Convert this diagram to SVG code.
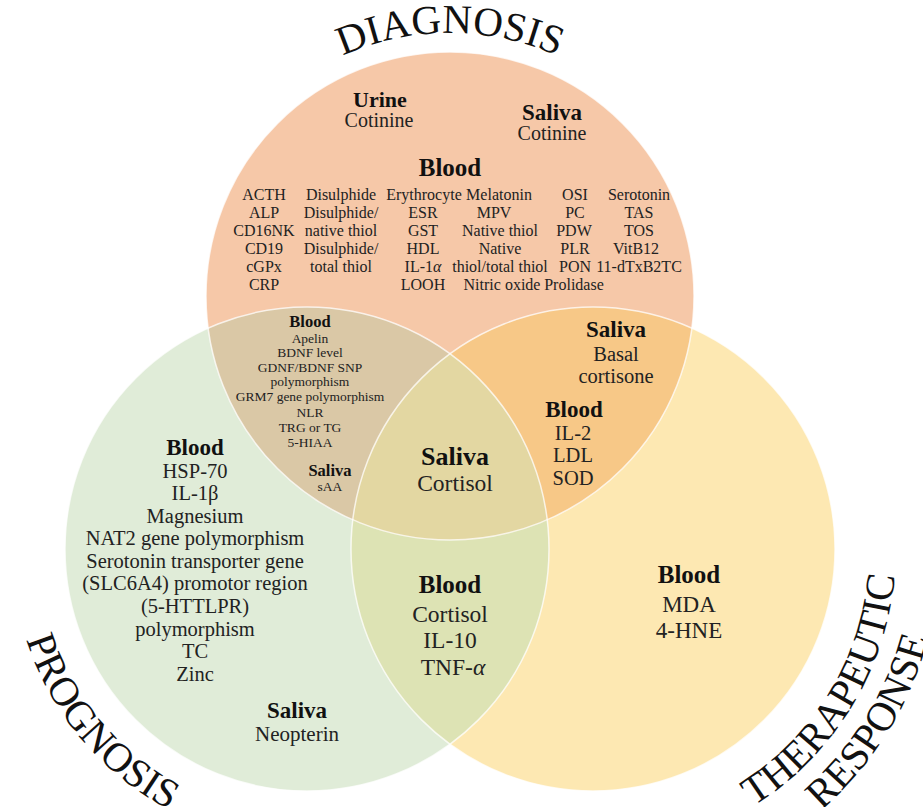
<svg xmlns="http://www.w3.org/2000/svg" width="923" height="807" viewBox="0 0 923 807">
<style>
text{font-family:"Liberation Serif","Times New Roman",serif;text-anchor:middle;fill:#222}
.h{font-weight:bold;fill:#111}
.ttl{font-size:41px;fill:#111;text-anchor:middle}
.s16{font-size:16px}
.s13{font-size:13.5px}
.b16{font-size:16.5px}
.s20{font-size:20.5px}
.b23{font-size:23px}
.s23{font-size:23.5px}
.b25{font-size:25px}
.edge{fill:none;stroke:#fff;stroke-width:1.5;stroke-opacity:0.75}
</style>
<defs>
<clipPath id="cT"><circle cx="450" cy="296" r="244"/></clipPath>
<clipPath id="cL"><circle cx="307" cy="549" r="242"/></clipPath>
<clipPath id="cR"><circle cx="593" cy="549" r="242"/></clipPath>
<path id="pDiag" d="M 248.5 126.9 A 263 263 0 0 1 651.5 126.9"/>
<path id="pProg" d="M 16.5 497.8 A 295 295 0 0 0 307 844"/>
<path id="pTher" d="M 637.8 848.7 A 303 303 0 0 0 880.3 452.9"/>
<path id="pResp" d="M 641.9 892.5 A 347 347 0 0 0 922.8 441.2"/>
</defs>
<rect width="923" height="807" fill="#fff"/>
<g id="circles">
<circle cx="307" cy="549" r="242" fill="#e0ecd8"/>
<circle cx="593" cy="549" r="242" fill="#fde8b2"/>
<circle cx="450" cy="296" r="244" fill="#f6c8a8"/>
<g clip-path="url(#cL)"><circle cx="593" cy="549" r="242" fill="#dde3b4"/></g>
<g clip-path="url(#cL)"><circle cx="450" cy="296" r="244" fill="#dac8a6"/></g>
<g clip-path="url(#cR)"><circle cx="450" cy="296" r="244" fill="#f7c887"/></g>
<g clip-path="url(#cL)"><g clip-path="url(#cR)"><circle cx="450" cy="296" r="244" fill="#e3d7a2"/></g></g>
<circle class="edge" cx="307" cy="549" r="242"/>
<circle class="edge" cx="593" cy="549" r="242"/>
<circle class="edge" cx="450" cy="296" r="244"/>
</g>
<g id="titles">
<text class="ttl"><textPath href="#pDiag" startOffset="50%">DIAGNOSIS</textPath></text>
<text class="ttl"><textPath href="#pProg" startOffset="50%">PROGNOSIS</textPath></text>
<text class="ttl"><textPath href="#pTher" startOffset="50%">THERAPEUTIC</textPath></text>
<text class="ttl"><textPath href="#pResp" startOffset="50%">RESPONSE</textPath></text>
</g>
<g id="diagnosis">
<text class="h" x="380" y="107" font-size="22">Urine</text>
<text x="379" y="127" font-size="20">Cotinine</text>
<text class="h" x="552" y="120" font-size="23">Saliva</text>
<text x="552" y="140" font-size="20">Cotinine</text>
<text class="h b25" x="450" y="176">Blood</text>
<g class="s16">
<text x="264" y="200">ACTH</text>
<text x="264" y="218">ALP</text>
<text x="264" y="236">CD16NK</text>
<text x="264" y="254">CD19</text>
<text x="264" y="272">cGPx</text>
<text x="264" y="290">CRP</text>
<text x="341" y="200">Disulphide</text>
<text x="341" y="218">Disulphide/</text>
<text x="341" y="236">native thiol</text>
<text x="341" y="254">Disulphide/</text>
<text x="341" y="272">total thiol</text>
<text x="424" y="200">Erythrocyte</text>
<text x="423" y="218">ESR</text>
<text x="423" y="236">GST</text>
<text x="423" y="254">HDL</text>
<text x="423" y="272">IL-1<tspan font-style="italic">α</tspan></text>
<text x="423" y="290">LOOH</text>
<text x="499" y="200">Melatonin</text>
<text x="494" y="218">MPV</text>
<text x="500" y="236">Native thiol</text>
<text x="500" y="254">Native</text>
<text x="500" y="272">thiol/total thiol</text>
<text x="502" y="290">Nitric oxide</text>
<text x="575" y="200">OSI</text>
<text x="575" y="218">PC</text>
<text x="574" y="236">PDW</text>
<text x="575" y="254">PLR</text>
<text x="575" y="272">PON</text>
<text x="574" y="290">Prolidase</text>
<text x="639" y="200">Serotonin</text>
<text x="639" y="218">TAS</text>
<text x="639" y="236">TOS</text>
<text x="636" y="254">VitB12</text>
<text x="639" y="272">11-dTxB2TC</text>
</g>
</g>
<g id="diagnosis-prognosis">
<text class="h b16" x="310" y="327">Blood</text>
<g class="s13">
<text x="310" y="343">Apelin</text>
<text x="310" y="357">BDNF level</text>
<text x="310" y="372">GDNF/BDNF SNP</text>
<text x="310" y="386">polymorphism</text>
<text x="310" y="401">GRM7 gene polymorphism</text>
<text x="310" y="417">NLR</text>
<text x="310" y="432">TRG or TG</text>
<text x="310" y="447">5-HIAA</text>
</g>
<text class="h b16" x="330" y="476">Saliva</text>
<text class="s13" x="330" y="491">sAA</text>
</g>
<g id="diagnosis-therapeutic">
<text class="h b23" x="616" y="337">Saliva</text>
<text class="s20" x="616" y="361">Basal</text>
<text class="s20" x="616" y="383">cortisone</text>
<text class="h b23" x="574" y="417">Blood</text>
<text class="s20" x="573" y="440">IL-2</text>
<text class="s20" x="573" y="462">LDL</text>
<text class="s20" x="573" y="485">SOD</text>
</g>
<g id="all-three">
<text class="h" x="455" y="465" font-size="26">Saliva</text>
<text class="s23" x="455" y="491">Cortisol</text>
</g>
<g id="prognosis">
<text class="h b23" x="195" y="455">Blood</text>
<g class="s20">
<text x="195" y="478">HSP-70</text>
<text x="195" y="500">IL-1β</text>
<text x="195" y="523">Magnesium</text>
<text x="195" y="545">NAT2 gene polymorphism</text>
<text x="195" y="568">Serotonin transporter gene</text>
<text x="195" y="590">(SLC6A4) promotor region</text>
<text x="195" y="613">(5-HTTLPR)</text>
<text x="195" y="636">polymorphism</text>
<text x="195" y="658">TC</text>
<text x="195" y="681">Zinc</text>
</g>
<text class="h b23" x="297" y="718">Saliva</text>
<text x="297" y="741" font-size="21">Neopterin</text>
</g>
<g id="prognosis-therapeutic">
<text class="h b25" x="450" y="593">Blood</text>
<text class="s23" x="450" y="622">Cortisol</text>
<text class="s23" x="450" y="648">IL-10</text>
<text class="s23" x="453" y="675">TNF-<tspan font-style="italic">α</tspan></text>
</g>
<g id="therapeutic">
<text class="h b25" x="689" y="583">Blood</text>
<text x="689" y="612" font-size="23">MDA</text>
<text x="689" y="638" font-size="23">4-HNE</text>
</g>
</svg>
